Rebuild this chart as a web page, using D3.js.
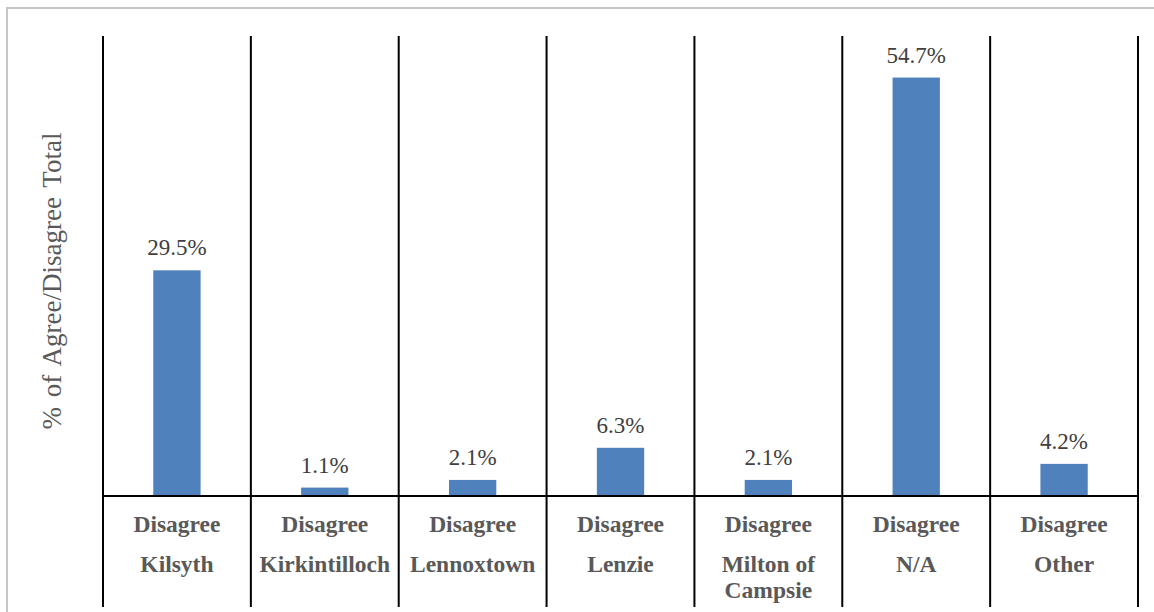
<!DOCTYPE html>
<html>
<head>
<meta charset="utf-8">
<script src="https://cdn.jsdelivr.net/npm/d3@7"></script>
<style>
  body { margin: 0; background: #fff; }
  text { font-family: "Liberation Serif", "Times New Roman", serif; }
</style>
</head>
<body>
<script>
var width = 1154, height = 612;

// data
var groupLabel = "Disagree";
var places = ["Kilsyth", "Kirkintilloch", "Lennoxtown", "Lenzie", "Milton of Campsie", "N/A", "Other"];
var placeLines = [["Kilsyth"], ["Kirkintilloch"], ["Lennoxtown"], ["Lenzie"], ["Milton of", "Campsie"], ["N/A"], ["Other"]];
var values = [29.5, 1.1, 2.1, 6.3, 2.1, 54.7, 4.2];
var yTitle = "% of Agree/Disagree Total";

var plotLeft = 103, plotRight = 1138, plotTop = 37, baseY = 496, gridBottom = 607;

var svg = d3.select("body").append("svg")
    .attr("width", width)
    .attr("height", height);

// outer chart border
svg.append("rect")
    .attr("x", 7).attr("y", 8)
    .attr("width", width + 10).attr("height", height + 10)
    .attr("fill", "none")
    .attr("stroke", "#c6c6c6")
    .attr("stroke-width", 2);

var x = d3.scaleBand()
    .domain(places)
    .range([plotLeft, plotRight]);

var y = d3.scaleLinear()
    .domain([0, 60])
    .range([baseY, plotTop]);

var barW = x.bandwidth() * 0.32;

var g = svg.append("g");

// bars
g.selectAll(".bar")
    .data(values)
  .enter().append("rect")
    .attr("class", "bar")
    .attr("x", function(d, i) { return x(places[i]) + (x.bandwidth() - barW) / 2; })
    .attr("y", function(d) { return y(d); })
    .attr("width", barW)
    .attr("height", function(d) { return baseY - y(d); })
    .attr("fill", "#4f81bd");

// value labels
g.selectAll(".val")
    .data(values)
  .enter().append("text")
    .attr("class", "val")
    .attr("x", function(d, i) { return x(places[i]) + x.bandwidth() / 2; })
    .attr("y", function(d) { return y(d) - 15; })
    .attr("text-anchor", "middle")
    .style("font-size", "23px")
    .style("fill", "#404040")
    .text(function(d) { return d.toFixed(1) + "%"; });

// category separators
var seps = places.map(function(p) { return x(p); }).concat([plotRight]);
g.selectAll(".sep")
    .data(seps)
  .enter().append("line")
    .attr("class", "sep")
    .attr("x1", function(d) { return d; })
    .attr("x2", function(d) { return d; })
    .attr("y1", plotTop - 1)
    .attr("y2", gridBottom)
    .attr("stroke", "#000")
    .attr("stroke-width", 2);

// baseline
g.append("line")
    .attr("x1", plotLeft).attr("x2", plotRight)
    .attr("y1", baseY).attr("y2", baseY)
    .attr("stroke", "#000")
    .attr("stroke-width", 2);

// category labels, two levels
var cats = g.selectAll(".cat")
    .data(places)
  .enter().append("g")
    .attr("class", "cat")
    .attr("transform", function(d) { return "translate(" + (x(d) + x.bandwidth() / 2) + ",0)"; });

cats.append("text")
    .attr("y", 532)
    .attr("text-anchor", "middle")
    .style("font-size", "23.5px")
    .style("font-weight", "bold")
    .style("fill", "#595959")
    .text(groupLabel);

cats.each(function(d, i) {
  var t = d3.select(this).append("text")
      .attr("text-anchor", "middle")
      .style("font-size", "23.5px")
      .style("font-weight", "bold")
      .style("fill", "#595959");
  placeLines[i].forEach(function(line, j) {
    t.append("tspan").attr("x", 0).attr("y", 572 + j * 26).text(line);
  });
});

// y title
svg.append("text")
    .attr("transform", "translate(61,281)rotate(-90)")
    .attr("text-anchor", "middle")
    .style("font-size", "27px")
    .style("word-spacing", "3px")
    .style("fill", "#595959")
    .text(yTitle);
</script>
</body>
</html>
